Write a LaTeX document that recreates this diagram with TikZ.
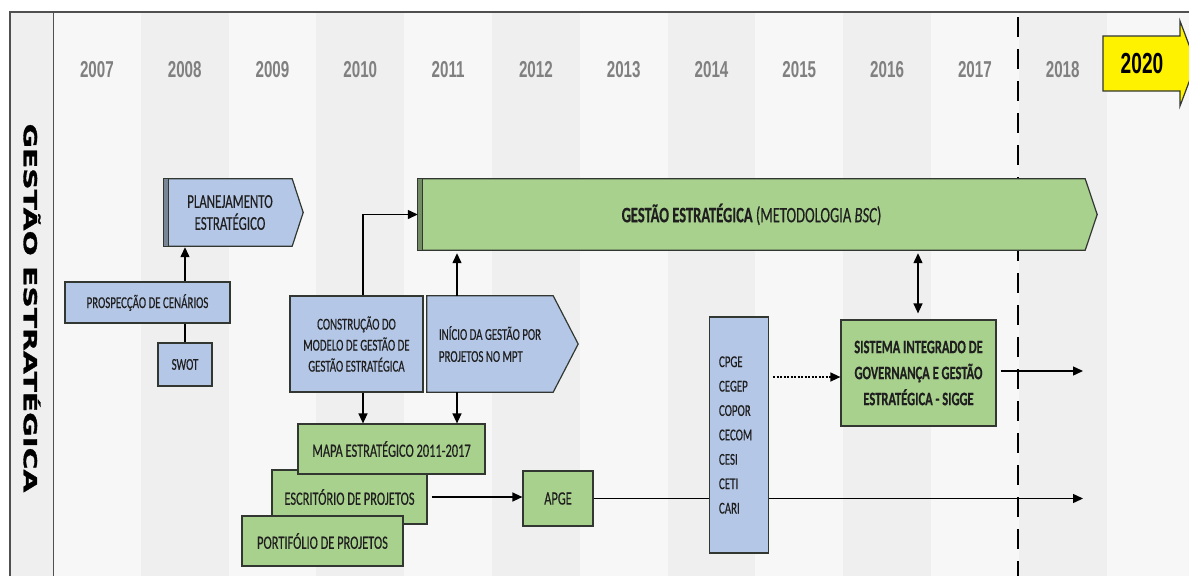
\documentclass[tikz,border=0pt]{standalone}
\usepackage{fontspec}
\usetikzlibrary{arrows.meta,calc,backgrounds}

% Condensed faces for the timeline
\newfontfamily\boxfont[FakeStretch=0.66,FakeBold=0.4]{Carlito}
\newfontfamily\yearfont[FakeStretch=0.66]{Liberation Sans}
\newfontfamily\sidefont[FakeStretch=1.65,FakeBold=1.8]{DejaVu Sans}
\newcommand\boxsize[2]{\boxfont\fontsize{#1}{#2}\selectfont}

\definecolor{bluefill}{RGB}{180,199,231}
\definecolor{greenfill}{RGB}{169,209,142}
\definecolor{edge}{RGB}{50,55,50}
\definecolor{colA}{RGB}{247,247,247}
\definecolor{colB}{RGB}{239,239,239}
\definecolor{yeartext}{RGB}{128,128,128}
\definecolor{frame}{RGB}{80,80,80}

\tikzset{
  txt/.style={font=\boxsize{16.5}{20}, text=black!88, align=center, inner sep=0pt},
  bluebox/.style={txt, draw=edge, line width=1.2pt, fill=bluefill},
  greenbox/.style={txt, draw=edge, line width=1.2pt, fill=greenfill},
  body/.style={txt},
  sz/.style 2 args={minimum width=#1pt, minimum height=#2pt},
  conn/.style={line width=1.3pt, draw=black},
  tip/.style={-{Triangle[length=10pt,width=9pt]}},
  arr/.style={conn, tip},
  year/.style={font=\yearfont\bfseries\fontsize{23}{26}\selectfont, text=yeartext},
  pentagon/.style={draw=edge, line width=1.2pt},
}

\begin{document}
\begin{tikzpicture}[x=1pt, y=-1pt]
\useasboundingbox (0,0) rectangle (1189,576);
\clip (0,0) rectangle (1189,576);

\begin{scope}[on background layer]
  \fill[white] (0,0) rectangle (1189,576);
  % year columns
  \foreach \k in {0,2,...,12} \fill[colA] ({53+87.8*\k},12) rectangle ({53+87.8*(\k+1)},576);
  \foreach \k in {1,3,...,11} \fill[colB] ({53+87.8*\k},12) rectangle ({53+87.8*(\k+1)},576);
  \fill[colB] (10,12) rectangle (53,576);
  % limit of the current plan
  \draw[line width=2.5pt, dash pattern=on 20pt off 12pt] (1018,17) -- (1018,576);
\end{scope}

% frame
\draw[frame, line width=1pt] (53,12) -- (53,576);
\draw[frame, line width=1.5pt] (10,576) -- (10,12) -- (1189,12);

% side title
\node[rotate=-90, font=\sidefont\bfseries\fontsize{18}{20}\selectfont] (side) at (32,308) {GESTÃO ESTRATÉGICA};

% years
\foreach \yr [count=\i from 0] in {2007,...,2018}
  \node[year] (y\yr) at ({53+87.8*\i+43.9},70) {\yr};

% 2020 arrow
\filldraw[fill=yellow, draw=edge, line width=1.2pt]
  (1103,36) -- (1180,36) -- (1180,21) -- (1196,63.5) -- (1180,106) -- (1180,91) -- (1103,91) -- cycle;
\node[font=\yearfont\bfseries\fontsize{29}{32}\selectfont] (y2020) at (1142,64) {2020};

% --- planning stage
\node[bluebox, sz={165}{41}] (pros) at (147.5,302.5) {PROSPECÇÃO DE CENÁRIOS};
\node[bluebox, sz={54}{43}] (swot) at (185,364.5) {SWOT};
\node[body, sz={128}{67}, font=\boxsize{19.5}{22}] (plan) at (230,212.5) {PLANEJAMENTO\\ESTRATÉGICO};

% --- model construction
\node[bluebox, sz={133}{96}, font=\boxsize{16.5}{21}] (constr) at (356.5,344) {CONSTRUÇÃO DO\\MODELO DE GESTÃO DE\\GESTÃO ESTRATÉGICA};
\node[body, sz={126}{96}, align=left, font=\boxsize{16.5}{22}] (inicio) at (490,344) {INÍCIO DA GESTÃO POR\\PROJETOS NO MPT};
\node[body, sz={667}{71}, font=\boxsize{22}{24}] (ge) at (751.5,214.5) {\textbf{GESTÃO ESTRATÉGICA} (METODOLOGIA \textit{BSC})};

% arrow-shaped boxes behind their text
\begin{scope}[on background layer]
  \filldraw[pentagon, fill=bluefill] ($(plan.north west)+(-2,0)$) -- ($(plan.north east)+(-2,0)$) -- ($(plan.east)+(9,0)$) -- ($(plan.south east)+(-2,0)$) -- ($(plan.south west)+(-2,0)$) -- cycle;
  \fill[bluefill!55!edge] ($(plan.north west)+(-2,0)$) rectangle ($(plan.south west)+(3,0)$);
  \draw[edge, line width=1.2pt] ($(plan.north west)+(3,0)$) -- ($(plan.south west)+(3,0)$);
  \filldraw[pentagon, fill=bluefill] (inicio.north west) -- (inicio.north east) -- ($(inicio.east)+(25,0)$) -- (inicio.south east) -- (inicio.south west) -- cycle;
  \filldraw[pentagon, fill=greenfill] (ge.north west) -- (ge.north east) -- ($(ge.east)+(12,0)$) -- (ge.south east) -- (ge.south west) -- cycle;
  \fill[greenfill!55!edge] (ge.north west) rectangle ($(ge.south west)+(5,0)$);
  \draw[edge, line width=1.2pt] ($(ge.north west)+(5,0)$) -- ($(ge.south west)+(5,0)$);
\end{scope}

% --- project office
\node[greenbox, sz={155}{54}, font=\boxsize{18.8}{21}] (escr) at (349.5,497) {ESCRITÓRIO DE PROJETOS};
\node[greenbox, sz={187}{50}, font=\boxsize{18.8}{21}] (mapa) at (391.5,449) {MAPA ESTRATÉGICO 2011-2017};
\node[greenbox, sz={161}{50}, font=\boxsize{18.8}{21}] (port) at (322.5,541) {PORTIFÓLIO DE PROJETOS};
\node[greenbox, sz={70}{55}, font=\boxsize{18.8}{21}] (apge) at (558,498.5) {APGE};

% --- committees and integrated system
\node[bluebox, sz={59}{236}, text width=40pt, align=left, font=\boxsize{16.5}{24.4}] (cpge) at (739,435)
  {CPGE\\CEGEP\\COPOR\\CECOM\\CESI\\CETI\\CARI};
\node[greenbox, sz={155}{106}, font=\boxfont\bfseries\fontsize{19}{26}\selectfont] (sigge) at (918.5,373)
  {SISTEMA INTEGRADO DE\\GOVERNANÇA E GESTÃO\\ESTRATÉGICA - SIGGE};

% connector columns
\coordinate (cA) at (363,0);
\coordinate (cB) at (457,0);
\coordinate (cC) at (918,0);
\coordinate (endA) at (1083,371);
\coordinate (endB) at (1083,498.5);

% connectors
\draw[conn] (swot.north) -- (swot.north |- pros.south);
\draw[arr] (pros.north -| swot.north) -- ($(plan.south -| swot.north)+(0,1)$);
\draw[arr] (constr.north -| cA) |- (ge.west);
\draw[arr] (inicio.north -| cB) -- ($(ge.south -| cB)+(0,3)$);
\draw[arr] (constr.south -| cA) -- (mapa.north -| cA);
\draw[arr] (inicio.south -| cB) -- (mapa.north -| cB);
\draw[arr] ($(escr.east)+(4,0)$) -- (escr.east -| apge.west);
\draw[conn] (apge.east) -- (apge.east -| cpge.west);
\draw[arr] (apge.east -| cpge.east) -- (endB);
\draw[conn, tip, dash pattern=on 2pt off 1.5pt] ($(cpge.east |- sigge.west)+(4,4)$) -- ($(sigge.west)+(0,4)$);
\draw[arr] ($(sigge.east)+(4,-2)$) -- (endA);
\draw[conn, {Triangle[length=10pt,width=9pt]}-{Triangle[length=10pt,width=9pt]}]
  ($(ge.south -| cC)+(0,3)$) -- ($(sigge.north -| cC)+(0,-6)$);

\end{tikzpicture}
\end{document}
